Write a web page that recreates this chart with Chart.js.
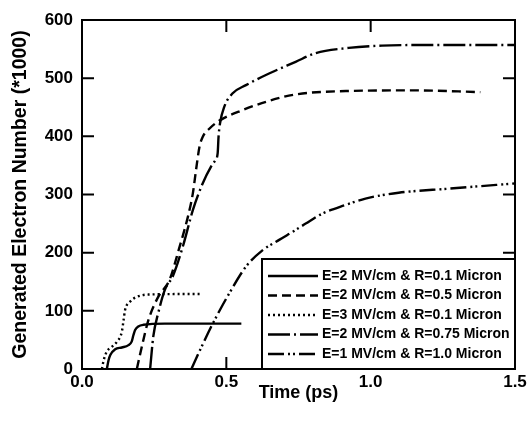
<!DOCTYPE html>
<html>
<head>
<meta charset="utf-8">
<script src="https://cdn.jsdelivr.net/npm/chart.js@4.4.0/dist/chart.umd.min.js"></script>
<style>
  body { margin: 0; background: #fff; }
</style>
</head>
<body>
<canvas id="electronChart" width="532" height="422"></canvas>
<script>
// tick positions
const xTicks = [0, 0.5, 1.0, 1.5];
const yTicks = [0, 100, 200, 300, 400, 500, 600];

const seriesLabels = [
    'E=2 MV/cm & R=0.1 Micron',
    'E=2 MV/cm & R=0.5 Micron',
    'E=3 MV/cm & R=0.1 Micron',
    'E=2 MV/cm & R=0.75 Micron',
    'E=1 MV/cm & R=1.0 Micron'
];

// E=2, R=0.1
const timeA = [0.086, 0.092, 0.098, 0.115, 0.138, 0.161, 0.172, 0.178, 0.184, 0.195, 0.213, 0.287, 0.40, 0.552];
const countA = [0, 15, 24, 34, 37, 41, 47, 58, 67, 73, 76, 78, 78, 78];

// E=2, R=0.5
const timeB = [0.19, 0.207, 0.23, 0.264, 0.303, 0.338, 0.367, 0.384, 0.395, 0.407, 0.418, 0.441, 0.476, 0.556, 0.648, 0.74, 0.924, 1.154, 1.38];
const countB = [0, 38, 84, 124, 153, 210, 262, 302, 342, 382, 399, 413, 427, 445, 461, 472, 478, 479, 476];

// E=3, R=0.1
const timeC = [0.069, 0.075, 0.086, 0.103, 0.121, 0.138, 0.144, 0.149, 0.167, 0.19, 0.23, 0.414];
const countC = [0, 15, 30, 38, 47, 64, 84, 101, 116, 124, 128, 129];

// E=2, R=0.75
const timeD = [0.236, 0.247, 0.264, 0.287, 0.315, 0.349, 0.384, 0.418, 0.447, 0.462, 0.470, 0.473, 0.478, 0.493, 0.522, 0.568, 0.648, 0.74, 0.809, 0.924, 1.039, 1.2, 1.5];
const countD = [0, 56, 96, 136, 160, 210, 273, 319, 348, 359, 371, 399, 422, 451, 474, 488, 508, 528, 543, 552, 556, 557, 557];

// E=1, R=1.0
const timeE = [0.379, 0.414, 0.453, 0.51, 0.568, 0.625, 0.683, 0.74, 0.775, 0.832, 0.913, 0.982, 1.097, 1.269, 1.5];
const countE = [0, 38, 78, 130, 176, 204, 222, 239, 250, 267, 282, 293, 303, 310, 319];

const times = [timeA, timeB, timeC, timeD, timeE];
const counts = [countA, countB, countC, countD, countE];
const dashes = [[], [9, 5], [2, 3], [22, 4, 2, 4], [16, 4, 2, 3, 2, 4]];

const datasets = seriesLabels.map((label, i) => ({
    label: label,
    data: times[i].map((t, j) => ({ x: t, y: counts[i][j] })),
    borderColor: '#000',
    borderWidth: 2.4,
    borderDash: dashes[i],
    pointRadius: 0,
    fill: false,
    cubicInterpolationMode: 'monotone'
}));

// box round the plot, inward ticks, legend in a box
const framePlugin = {
    id: 'framePlugin',
    afterDatasetsDraw(chart) {
        const { ctx, chartArea: a, scales: { x, y } } = chart;
        ctx.save();
        ctx.strokeStyle = '#000';
        ctx.lineWidth = 2;
        ctx.setLineDash([]);
        ctx.strokeRect(a.left, a.top, a.width, a.height);
        ctx.beginPath();
        x.ticks.forEach(t => {
            const px = x.getPixelForValue(t.value);
            ctx.moveTo(px, a.bottom); ctx.lineTo(px, a.bottom - 12);
            ctx.moveTo(px, a.top); ctx.lineTo(px, a.top + 12);
        });
        y.ticks.forEach(t => {
            const py = y.getPixelForValue(t.value);
            ctx.moveTo(a.left, py); ctx.lineTo(a.left + 12, py);
            ctx.moveTo(a.right, py); ctx.lineTo(a.right - 12, py);
        });
        ctx.stroke();

        // legend
        const boxW = 253, boxH = 110;
        const bx = a.right - boxW, by = a.bottom - boxH;
        ctx.fillStyle = '#fff';
        ctx.fillRect(bx, by, boxW, boxH);
        ctx.strokeRect(bx, by, boxW, boxH);
        ctx.font = 'bold 14px "Liberation Sans", Arial, sans-serif';
        ctx.textBaseline = 'middle';
        ctx.textAlign = 'left';
        chart.data.datasets.forEach((ds, i) => {
            const ly = by + 17 + i * 19.5;
            ctx.lineWidth = 2.4;
            ctx.setLineDash(ds.borderDash);
            ctx.beginPath();
            ctx.moveTo(bx + 6, ly);
            ctx.lineTo(bx + 56, ly);
            ctx.stroke();
            ctx.fillStyle = '#000';
            ctx.fillText(ds.label, bx + 60, ly);
        });
        ctx.restore();
    }
};

const ctx = document.getElementById('electronChart').getContext('2d');
const chart = new Chart(ctx, {
    type: 'line',
    data: { datasets: datasets },
    options: {
        responsive: false,
        animation: false,
        devicePixelRatio: 1,
        layout: { padding: { left: 0, right: 17, top: 20, bottom: 0 } },
        plugins: {
            legend: { display: false },
            tooltip: { enabled: false }
        },
        scales: {
            x: {
                type: 'linear',
                min: 0,
                max: 1.5,
                afterBuildTicks: s => { s.ticks = xTicks.map(v => ({ value: v })); },
                afterFit: s => { s.height = 53; },
                grid: { display: false, drawTicks: false },
                border: { display: false },
                ticks: {
                    padding: 3,
                    color: '#000',
                    font: { family: '"Liberation Sans", Arial, sans-serif', size: 17, weight: 'bold' },
                    callback: v => v.toFixed(1)
                },
                title: {
                    display: true,
                    text: 'Time (ps)',
                    color: '#000',
                    padding: { top: 0, bottom: 18 },
                    font: { family: '"Liberation Sans", Arial, sans-serif', size: 18, weight: 'bold' }
                }
            },
            y: {
                type: 'linear',
                min: 0,
                max: 600,
                afterBuildTicks: s => { s.ticks = yTicks.map(v => ({ value: v })); },
                afterFit: s => { s.width = 82; },
                grid: { display: false, drawTicks: false },
                border: { display: false },
                ticks: {
                    padding: 9,
                    color: '#000',
                    font: { family: '"Liberation Sans", Arial, sans-serif', size: 17, weight: 'bold' }
                },
                title: {
                    display: true,
                    text: 'Generated Electron Number (*1000)',
                    color: '#000',
                    padding: { top: 9, bottom: 0 },
                    font: { family: '"Liberation Sans", Arial, sans-serif', size: 19.5, weight: 'bold' }
                }
            }
        }
    },
    plugins: [framePlugin]
});
</script>
</body>
</html>
